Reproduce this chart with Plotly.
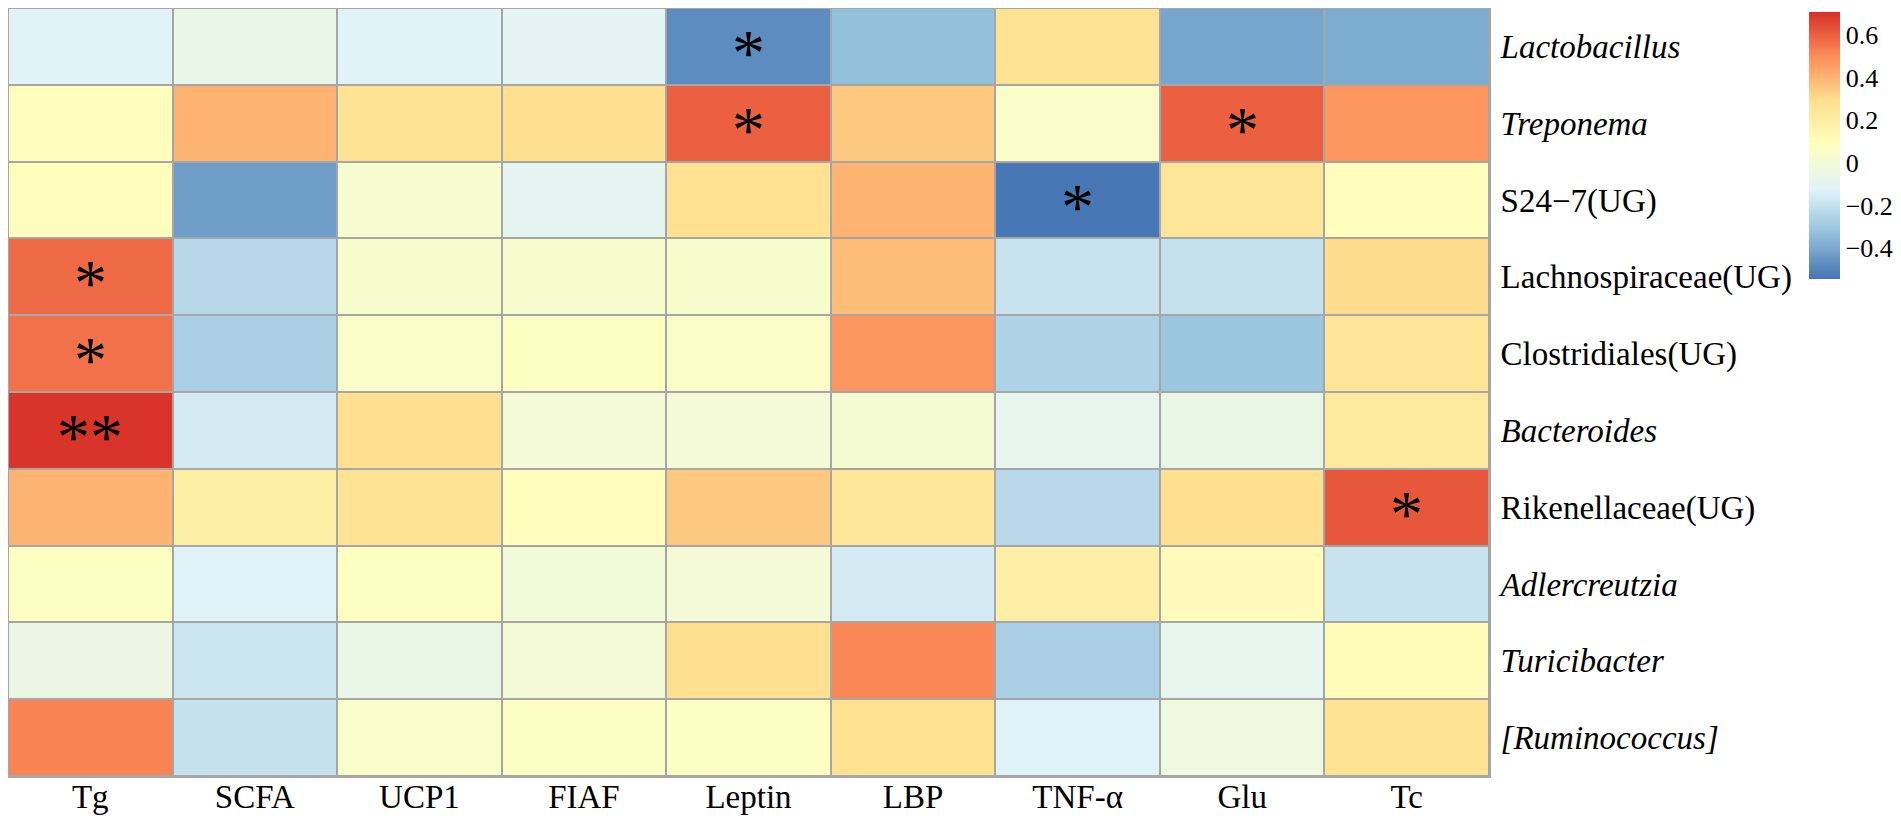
import plotly.graph_objects as go

# correlation heatmap: gut taxa vs. host indices (pheatmap style)
indices = ["Tg", "SCFA", "UCP1", "FIAF", "Leptin", "LBP", "TNF-α", "Glu", "Tc"]
taxa = ["Lactobacillus", "Treponema", "S24\u22127(UG)", "Lachnospiraceae(UG)",
        "Clostridiales(UG)", "Bacteroides", "Rikenellaceae(UG)", "Adlercreutzia",
        "Turicibacter", "[Ruminococcus]"]
italic_taxa = [True, True, False, False, False, True, False, True, True, True]

corr = [
    [-0.12, -0.07, -0.12, -0.11, -0.48, -0.33, 0.27, -0.41, -0.39],
    [0.09, 0.40, 0.27, 0.29, 0.60, 0.35, 0.04, 0.60, 0.48],
    [0.09, -0.43, 0.02, -0.10, 0.28, 0.40, -0.54, 0.25, 0.09],
    [0.58, -0.24, 0.03, 0.03, 0.03, 0.38, -0.19, -0.20, 0.30],
    [0.56, -0.27, 0.05, 0.07, 0.05, 0.48, -0.26, -0.31, 0.26],
    [0.70, -0.16, 0.29, 0.00, 0.00, 0.01, -0.09, -0.06, 0.23],
    [0.40, 0.19, 0.27, 0.09, 0.35, 0.25, -0.23, 0.29, 0.62],
    [0.07, -0.13, 0.07, -0.01, 0.00, -0.16, 0.20, 0.10, -0.19],
    [-0.05, -0.18, -0.06, 0.00, 0.29, 0.51, -0.27, -0.09, 0.11],
    [0.52, -0.20, 0.04, 0.07, 0.07, 0.28, -0.13, -0.03, 0.27],
]

sig = [
    ["", "", "", "", "*", "", "", "", ""],
    ["", "", "", "", "*", "", "", "*", ""],
    ["", "", "", "", "", "", "*", "", ""],
    ["*", "", "", "", "", "", "", "", ""],
    ["*", "", "", "", "", "", "", "", ""],
    ["**", "", "", "", "", "", "", "", ""],
    ["", "", "", "", "", "", "", "", "*"],
    ["", "", "", "", "", "", "", "", ""],
    ["", "", "", "", "", "", "", "", ""],
    ["", "", "", "", "", "", "", "", ""],
]

# rev(RdYlBu, 7)
colors = ["#4575B4", "#91BFDB", "#E0F3F8", "#FFFFBF", "#FEE090", "#FC8D59", "#D73027"]
scale = [[i / 6, c] for i, c in enumerate(colors)]

FONT = "Liberation Serif"
# page body has an 8px margin, so the figure is a bit smaller than the window
W, H = 1893, 815
L, R, T, B = 0, 1481, 0, 768
CB_LEFT, CB_TOP = 1801, 4

fig = go.Figure(go.Heatmap(
    z=corr, x=indices, y=taxa,
    colorscale=scale, zmin=-0.545, zmax=0.708,
    xgap=2, ygap=2, hoverinfo="skip",
    colorbar=dict(
        thickness=31, len=267, lenmode="pixels",
        x=(CB_LEFT - L) / (R - L), xanchor="left", xpad=0,
        y=1 + (T - CB_TOP) / (B - T), yanchor="top", ypad=0,
        outlinewidth=0, tickvals=[-0.4, -0.2, 0, 0.2, 0.4, 0.6],
        ticktext=["\u22120.4", "\u22120.2", "0", "0.2", "0.4", "0.6"],
        tickfont=dict(family=FONT, size=26, color="black"),
    ),
))

for i, row in enumerate(sig):
    for j, s in enumerate(row):
        if s:
            fig.add_annotation(x=indices[j], y=taxa[i], text=s, showarrow=False,
                               font=dict(family=FONT, size=66, color="black"),
                               yshift=-6)

ticktext = [f"<i>{t}</i>" if it else t for t, it in zip(taxa, italic_taxa)]

fig.update_layout(
    width=W, height=H,
    margin=dict(l=L, r=W - R, t=T, b=H - B, autoexpand=False),
    plot_bgcolor="#A6A6A6", paper_bgcolor="white",
    font=dict(family=FONT, color="black"),
    xaxis=dict(showgrid=False, zeroline=False, showline=True, mirror=True,
               linecolor="#A6A6A6", linewidth=2, ticks="",
               range=[-0.5, len(indices) - 0.5],
               tickfont=dict(size=33), ticklabelstandoff=-10),
    yaxis=dict(showgrid=False, zeroline=False, showline=True, mirror=True,
               linecolor="#A6A6A6", linewidth=2, ticks="", side="right",
               range=[len(taxa) - 0.5, -0.5], tickvals=taxa, ticktext=ticktext,
               tickfont=dict(size=33), ticklabelstandoff=3),
)

fig.write_html("out.html")
